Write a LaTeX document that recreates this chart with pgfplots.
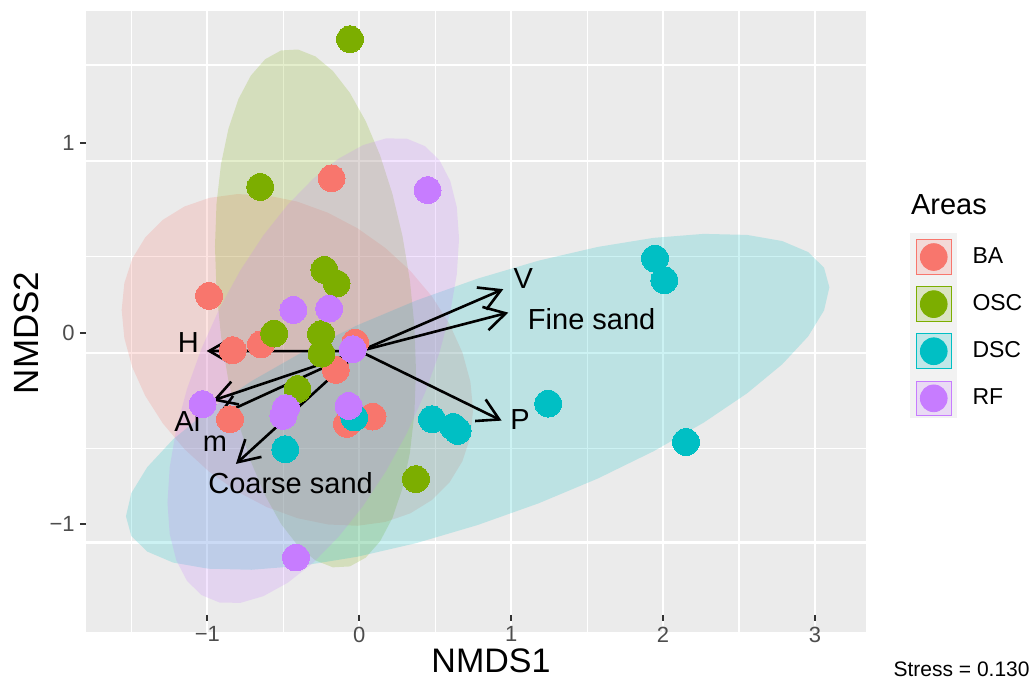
\documentclass[border=0pt]{standalone}
\usepackage{fontspec}
\setmainfont{Liberation Sans}
\usepackage{pgfplots}
\pgfplotsset{compat=1.18}
\usetikzlibrary{arrows.meta}
\definecolor{ba}{HTML}{F8766D}
\definecolor{osc}{HTML}{7CAE00}
\definecolor{dsc}{HTML}{00BFC4}
\definecolor{rf}{HTML}{C77CFF}
\definecolor{ggbg}{HTML}{EBEBEB}
\definecolor{keybg}{HTML}{F2F2F2}
\definecolor{tickc}{HTML}{333333}
\definecolor{ticklab}{HTML}{4D4D4D}
\begin{document}
\begin{tikzpicture}
\path[use as bounding box] (-43pt,-24pt) rectangle (473.5pt,316pt);
\fill[keybg] (412pt,106.85pt) rectangle (435.35pt,199.35pt);
\begin{axis}[
  at={(0pt,0pt)}, anchor=south west,
  scale only axis, width=390pt, height=310.5pt,
  xmin=-1.799, xmax=3.336, ymin=-1.565, ymax=1.690,
  axis background/.style={fill=ggbg},
  axis x line*=bottom, axis y line*=left,
  axis line style={draw=none},
  xtick={-1,0,1,2,3}, xticklabels={−1,0,1,2,3},
  ytick={-1,0,1}, yticklabels={−1,0,1},
  minor xtick={-1.5,-0.5,0.5,1.5,2.5},
  minor ytick={-0.602,0.401,1.407},
  extra y ticks={-1.0964,-0.1006,0.904},
  extra y tick labels={},
  extra y tick style={ymajorgrids=true, major tick length=0pt},
  xmajorgrids=true, xminorgrids=true, yminorgrids=true, ymajorgrids=false,
  major grid style={white, line width=1.1pt},
  minor grid style={white, line width=0.55pt},
  tick align=outside, major tick length=3pt, minor tick length=0pt,
  tick style={color=tickc, line width=1pt},
  xtick style={draw=none},
  ticklabel style={font=\fontsize{11}{13}\selectfont, text=ticklab, inner sep=0pt},
  xticklabel style={yshift=5.8pt},
  yticklabel style={xshift=-2.5pt},
  legend style={at={(1.0641,0.6324)}, anchor=north west, draw=none, fill=none,
    inner sep=0pt, outer sep=0pt, row sep=5.8pt, column sep=10.5pt,
    font=\fontsize{11.5}{13}\selectfont, nodes={inner sep=0pt}},
  legend cell align=left,
]
% ellipses (BA, OSC, DSC, RF)
\addplot[fill=ba, fill opacity=0.2, draw=none, forget plot] coordinates {
(0.7492,-0.4010) (0.7316,-0.5410) (0.6795,-0.6690) (0.5942,-0.7808) (0.4785,-0.8730) (0.3360,-0.9430)
(0.1709,-0.9885) (-0.0119,-1.0082) (-0.2067,-1.0015) (-0.4075,-0.9686) (-0.6083,-0.9105) (-0.8031,-0.8290)
(-0.9859,-0.7263) (-1.1510,-0.6060) (-1.2935,-0.4714) (-1.4092,-0.3268) (-1.4945,-0.1764) (-1.5466,-0.0248)
(-1.5642,0.1232) (-1.5466,0.2632) (-1.4945,0.3912) (-1.4092,0.5030) (-1.2935,0.5952) (-1.1510,0.6652)
(-0.9859,0.7107) (-0.8031,0.7304) (-0.6083,0.7237) (-0.4075,0.6908) (-0.2067,0.6327) (-0.0119,0.5512)
(0.1709,0.4485) (0.3360,0.3282) (0.4785,0.1936) (0.5942,0.0490) (0.6795,-0.1014) (0.7316,-0.2530)
};
\addplot[fill=osc, fill opacity=0.2, draw=none, forget plot] coordinates {
(0.3733,-0.1939) (0.3632,-0.4183) (0.3334,-0.6260) (0.2847,-0.8108) (0.2185,-0.9669) (0.1370,-1.0895)
(0.0425,-1.1753) (-0.0620,-1.2213) (-0.1734,-1.2261) (-0.2883,-1.1898) (-0.4032,-1.1133) (-0.5146,-0.9991)
(-0.6191,-0.8503) (-0.7136,-0.6719) (-0.7951,-0.4691) (-0.8613,-0.2480) (-0.9100,-0.0154) (-0.9398,0.2217)
(-0.9499,0.4559) (-0.9398,0.6803) (-0.9100,0.8880) (-0.8613,1.0728) (-0.7951,1.2289) (-0.7136,1.3515)
(-0.6191,1.4373) (-0.5146,1.4833) (-0.4032,1.4881) (-0.2883,1.4518) (-0.1734,1.3753) (-0.0620,1.2611)
(0.0425,1.1123) (0.1370,0.9339) (0.2185,0.7311) (0.2847,0.5100) (0.3334,0.2774) (0.3632,0.0403)
};
\addplot[fill=dsc, fill opacity=0.2, draw=none, forget plot] coordinates {
(3.0949,0.2416) (3.0597,0.1204) (2.9553,-0.0154) (2.7846,-0.1617) (2.5531,-0.3139) (2.2678,-0.4674)
(1.9372,-0.6176) (1.5714,-0.7601) (1.1815,-0.8902) (0.7795,-1.0042) (0.3775,-1.0986) (-0.0124,-1.1705)
(-0.3782,-1.2178) (-0.7088,-1.2388) (-0.9941,-1.2333) (-1.2256,-1.2011) (-1.3963,-1.1432) (-1.5007,-1.0616)
(-1.5359,-0.9586) (-1.5007,-0.8374) (-1.3963,-0.7016) (-1.2256,-0.5553) (-0.9941,-0.4031) (-0.7088,-0.2496)
(-0.3782,-0.0994) (-0.0124,0.0431) (0.3775,0.1732) (0.7795,0.2872) (1.1815,0.3816) (1.5714,0.4535)
(1.9372,0.5008) (2.2678,0.5218) (2.5531,0.5163) (2.7846,0.4841) (2.9553,0.4262) (3.0597,0.3446)
};
\addplot[fill=rf, fill opacity=0.2, draw=none, forget plot] coordinates {
(0.6570,0.4968) (0.6424,0.3116) (0.5991,0.1109) (0.5284,-0.0991) (0.4324,-0.3119) (0.3142,-0.5211)
(0.1771,-0.7206) (0.0255,-0.9040) (-0.1362,-1.0659) (-0.3028,-1.2013) (-0.4694,-1.3061) (-0.6311,-1.3772)
(-0.7827,-1.4124) (-0.9198,-1.4105) (-1.0380,-1.3717) (-1.1340,-1.2973) (-1.2047,-1.1893) (-1.2480,-1.0510)
(-1.2626,-0.8868) (-1.2480,-0.7016) (-1.2047,-0.5009) (-1.1340,-0.2909) (-1.0380,-0.0781) (-0.9198,0.1311)
(-0.7827,0.3306) (-0.6311,0.5140) (-0.4694,0.6759) (-0.3028,0.8113) (-0.1362,0.9161) (0.0255,0.9872)
(0.1771,1.0224) (0.3142,1.0205) (0.4324,0.9817) (0.5284,0.9073) (0.5991,0.7993) (0.6424,0.6610)
};
% x tick marks (drawn inside the panel, as in the reference)
\draw[tickc, line width=1pt] (axis cs:-1,-1.4754) -- (axis cs:-1,-1.5094)
  (axis cs:0,-1.4754) -- (axis cs:0,-1.5094) (axis cs:1,-1.4754) -- (axis cs:1,-1.5094)
  (axis cs:2,-1.4754) -- (axis cs:2,-1.5094) (axis cs:3,-1.4754) -- (axis cs:3,-1.5094);
% points
\addplot[only marks, mark=*, mark size=6.7pt, color=ba, mark options={line width=0pt}, forget plot] coordinates {
(-0.182,0.813) (-0.989,0.197) (-0.833,-0.088) (-0.647,-0.057) (-0.026,-0.048) (-0.155,-0.191) (-0.851,-0.450) (-0.081,-0.474) (0.088,-0.436)};
\addplot[only marks, mark=*, mark size=6.7pt, color=osc, mark options={line width=0pt}, forget plot] coordinates {
(-0.061,1.542) (-0.652,0.768) (-0.230,0.333) (-0.149,0.261) (-0.560,-0.001) (-0.252,-0.004) (-0.248,-0.106) (-0.406,-0.292) (0.373,-0.764)};
\addplot[only marks, mark=*, mark size=6.7pt, color=dsc, mark options={line width=0pt}, forget plot] coordinates {
(-0.033,-0.441) (-0.487,-0.607) (0.479,-0.450) (0.619,-0.490) (0.648,-0.511) (1.244,-0.368) (1.947,0.392) (2.008,0.279) (2.151,-0.569)};
\addplot[only marks, mark=*, mark size=6.7pt, color=rf, mark options={line width=0pt}, forget plot] coordinates {
(0.450,0.751) (-0.434,0.123) (-0.198,0.130) (-0.043,-0.083) (-1.031,-0.371) (-0.483,-0.392) (-0.500,-0.432) (-0.070,-0.380) (-0.417,-1.175)};
% arrows
\pgfplotsset{arr/.style={black, line width=1.3pt, -{Straight Barb[length=10.5pt,width=12pt]}, forget plot}}
\addplot[arr] coordinates {(0.003,-0.093) (-1.005,-0.092)};
\addplot[arr] coordinates {(0.003,-0.093) (-0.965,-0.352)};
\addplot[arr] coordinates {(0.003,-0.093) (-0.939,-0.436)};
\addplot[arr] coordinates {(0.003,-0.093) (-0.812,-0.684)};
\addplot[arr] coordinates {(0.003,-0.093) (0.948,0.232)};
\addplot[arr] coordinates {(0.003,-0.093) (0.981,0.109)};
\addplot[arr] coordinates {(0.003,-0.093) (0.937,-0.457)};
% arrow labels
\begin{scope}[every node/.style={inner sep=0pt, font=\fontsize{14.5}{17}\selectfont}]
\node at (axis cs:-1.126,-0.048) {H};
\node at (axis cs:-1.132,-0.457) {Al};
\node at (axis cs:-0.950,-0.576) {m};
\node at (axis cs:-0.452,-0.785) {Coarse sand};
\node at (axis cs:1.080,0.289) {V};
\node at (axis cs:1.530,0.076) {Fine sand};
\node at (axis cs:1.058,-0.453) {P};
\end{scope}
% legend
\addlegendimage{legend image code/.code={\fill[ba, fill opacity=0.2] (0pt,-8.675pt) rectangle (17.35pt,8.675pt); \fill[ba] (8.675pt,0pt) circle (6.7pt);}}
\addlegendentry{BA}
\addlegendimage{legend image code/.code={\fill[osc, fill opacity=0.2] (0pt,-8.675pt) rectangle (17.35pt,8.675pt); \fill[osc] (8.675pt,0pt) circle (6.7pt);}}
\addlegendentry{OSC}
\addlegendimage{legend image code/.code={\fill[dsc, fill opacity=0.2] (0pt,-8.675pt) rectangle (17.35pt,8.675pt); \fill[dsc] (8.675pt,0pt) circle (6.7pt);}}
\addlegendentry{DSC}
\addlegendimage{legend image code/.code={\fill[rf, fill opacity=0.2] (0pt,-8.675pt) rectangle (17.35pt,8.675pt); \fill[rf] (8.675pt,0pt) circle (6.7pt);}}
\addlegendentry{RF}
\end{axis}
\node[anchor=base west, inner sep=0pt, font=\fontsize{14.5}{17}\selectfont] at (412.35pt,208.85pt) {Areas};
\node[inner sep=0pt, font=\fontsize{17}{20}\selectfont] at (202.5pt,-14.3pt) {NMDS1};
\node[inner sep=0pt, rotate=90, font=\fontsize{17.5}{21}\selectfont] at (-30pt,149.5pt) {NMDS2};
\node[anchor=base east, inner sep=0pt, font=\fontsize{10.5}{12}\selectfont] at (472pt,-22.35pt) {Stress = 0.130};
\end{tikzpicture}
\end{document}
